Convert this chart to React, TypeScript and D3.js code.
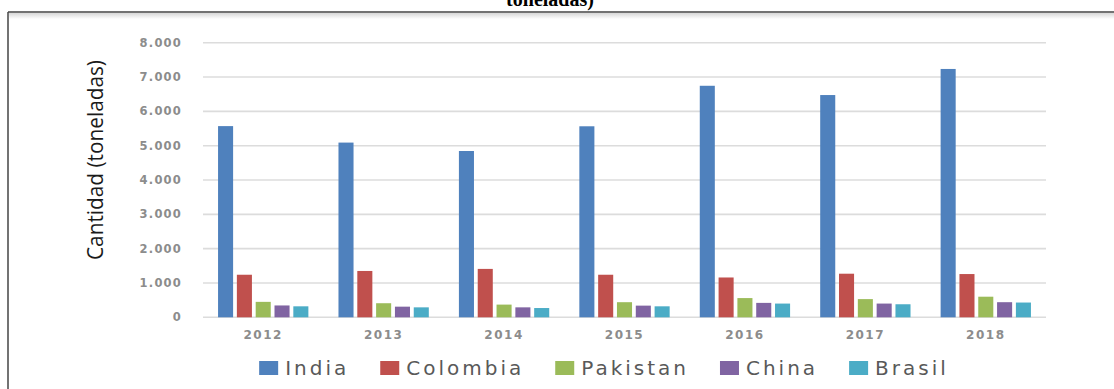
import React from "react";
import * as d3 from "d3";

// Annual quantities (tonnes) by country
const years = ["2012", "2013", "2014", "2015", "2016", "2017", "2018"];
const countries = ["India", "Colombia", "Pakistan", "China", "Brasil"];
const india = [5570, 5090, 4845, 5565, 6745, 6475, 7235];
const colombia = [1240, 1350, 1410, 1240, 1160, 1270, 1260];
const pakistan = [450, 410, 370, 440, 560, 530, 600];
const china = [345, 310, 290, 340, 420, 400, 440];
const brasil = [320, 290, 270, 320, 400, 380, 430];
const yTicks = [0, 1000, 2000, 3000, 4000, 5000, 6000, 7000, 8000];
const colors = ["#4F81BD", "#C0504D", "#9BBB59", "#8064A2", "#4BACC6"];

const seriesValues = [india, colombia, pakistan, china, brasil];

const W = 1114;
const H = 389;
const plot = { left: 203, right: 1046, top: 42.7, bottom: 317.3 };

const fmt = (v: number) => d3.format(",")(v).replace(/,/g, ".");

const legendFont = "20px 'DejaVu Sans'";
const legendSpacing = 3;

function measure(text: string, font: string, spacing: number) {
  const c = document.createElement("canvas").getContext("2d");
  if (!c) return text.length * 12;
  c.font = font;
  return c.measureText(text).width + spacing * text.length;
}

export default function App() {
  const x0 = d3
    .scaleBand<string>()
    .domain(years)
    .range([plot.left, plot.right])
    .paddingInner(0.25)
    .paddingOuter(0.125);
  const x1 = d3
    .scaleBand<string>()
    .domain(countries)
    .range([0, x0.bandwidth()])
    .paddingInner(0.2);
  const y = d3.scaleLinear().domain([0, 8000]).range([plot.bottom, plot.top]);

  // legend layout
  const sw = 19;
  const gap = 7;
  const itemGap = 31;
  const widths = countries.map((c) => measure(c, legendFont, legendSpacing));
  const total =
    widths.reduce((a, b) => a + b, 0) +
    countries.length * (sw + gap) +
    (countries.length - 1) * itemGap;
  let lx = 604 - total / 2;
  const legendItems = countries.map((c, i) => {
    const item = { name: c, x: lx, color: colors[i] };
    lx += sw + gap + widths[i] + itemGap;
    return item;
  });

  return (
    <svg
      width={W}
      height={H}
      style={{ position: "absolute", left: 0, top: 0, background: "#fff" }}
    >
      <defs>
        <linearGradient id="shade" x1="0" y1="0" x2="0" y2="1">
          <stop offset="0" stopColor="#d8d8d8" />
          <stop offset="1" stopColor="#ffffff" />
        </linearGradient>
      </defs>
      {/* heading, running off the top edge */}
      <text
        x={550}
        y={6}
        textAnchor="middle"
        fontFamily="'Liberation Serif', 'Times New Roman', serif"
        fontWeight="bold"
        fontSize={20}
        fill="#000"
      >
        toneladas)
      </text>
      {/* frame */}
      <rect x={9} y={13} width={W - 9} height={6} fill="url(#shade)" />
      <line x1={8} x2={W} y1={12} y2={12} stroke="#444" strokeWidth={1.5} />
      <line x1={8} x2={8} y1={12} y2={H} stroke="#444" strokeWidth={1.5} />

      {/* gridlines and value ticks */}
      {yTicks.map((t) => (
        <g key={t}>
          <line
            x1={plot.left}
            x2={plot.right}
            y1={y(t)}
            y2={y(t)}
            stroke="#dcdcdc"
            strokeWidth={1.6}
          />
          <text
            x={182}
            y={y(t)}
            dy="0.35em"
            textAnchor="end"
            fontFamily="'DejaVu Sans'"
            fontWeight="bold"
            fontSize={11.5}
            letterSpacing={1.2}
            fill="#8c8c8c"
          >
            {fmt(t)}
          </text>
        </g>
      ))}

      {/* y-axis title */}
      <text
        transform={`translate(97,160) rotate(-90)`}
        textAnchor="middle"
        dominantBaseline="middle"
        fontFamily="'Open Sans'"
        fontSize={21}
        fill="#1a1a1a"
        textLength={200}
        lengthAdjust="spacingAndGlyphs"
      >
        Cantidad (toneladas)
      </text>

      {/* bars */}
      {years.map((yr, yi) => (
        <g key={yr} transform={`translate(${x0(yr)},0)`}>
          {countries.map((c, ci) => {
            const v = seriesValues[ci][yi];
            return (
              <rect
                key={c}
                x={x1(c)}
                y={y(v)}
                width={x1.bandwidth()}
                height={y(0) - y(v)}
                fill={colors[ci]}
              />
            );
          })}
          <text
            x={x0.bandwidth() / 2}
            y={335}
            dy="0.35em"
            textAnchor="middle"
            fontFamily="'DejaVu Sans'"
            fontWeight="bold"
            fontSize={12}
            letterSpacing={1.5}
            fill="#8c8c8c"
          >
            {yr}
          </text>
        </g>
      ))}

      {/* legend */}
      {legendItems.map((it) => (
        <g key={it.name} transform={`translate(${it.x},368)`}>
          <rect x={0} y={-7} width={sw} height={14} fill={it.color} />
          <text
            x={sw + gap}
            y={0}
            dy="0.36em"
            fontFamily="'DejaVu Sans'"
            fontSize={20}
            letterSpacing={legendSpacing}
            fill="#595959"
          >
            {it.name}
          </text>
        </g>
      ))}
    </svg>
  );
}
